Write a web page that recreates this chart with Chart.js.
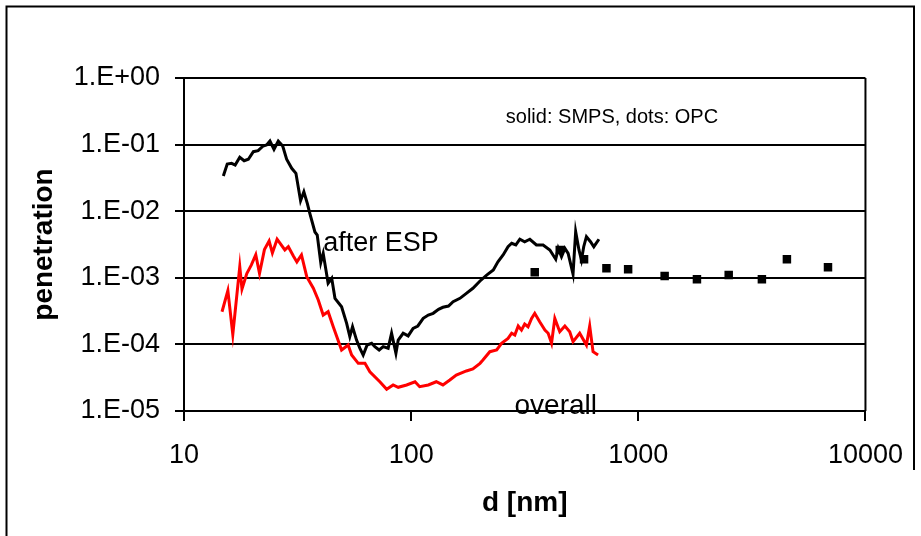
<!DOCTYPE html>
<html>
<head>
<meta charset="utf-8">
<script src="https://cdn.jsdelivr.net/npm/chart.js@4/dist/chart.umd.min.js"></script>
<style>
  body { margin: 0; background: #fff; }
  #wrap { width: 921px; height: 536px; }
</style>
</head>
<body>
<div id="wrap"><canvas id="myChart" width="921" height="536"></canvas></div>
<script>
// SMPS, after ESP (black line)
const espD = [14.9, 15.5, 16.2, 16.8, 17.6, 18.4, 19.2, 20.2, 21.2, 22.3,
  23.1, 23.9, 24.9, 26.0, 27.2, 28.3, 29.8, 31.1, 32.6, 33.7,
  34.9, 35.8, 37.7, 38.6, 40.0, 41.0, 43.1, 44.7, 46.2, 49.4,
  52.0, 53.7, 55.2, 57.5, 59.5, 61.5, 64.0, 67.0, 69.2, 72.3,
  75.3, 79.2, 82.0, 85.7, 87.7, 92.2, 97.0, 102, 107, 113,
  119, 125, 132, 138, 146, 153, 164, 175, 187, 201,
  215, 230, 241, 254, 267, 277, 289, 301, 316, 333,
  356, 381, 408, 433, 444, 459, 475, 491, 516, 530,
  548, 562, 575, 591, 616, 637, 671];
const espPen = [3.38e-2, 5.11e-2, 5.24e-2, 4.94e-2, 6.45e-2, 5.73e-2, 6.02e-2, 7.82e-2, 8.10e-2, 9.53e-2,
  9.86e-2, 0.113, 8.50e-2, 0.113, 9.53e-2, 6.02e-2, 4.41e-2, 3.71e-2, 1.44e-2, 1.96e-2,
  1.31e-2, 9.30e-3, 4.87e-3, 4.39e-3, 1.69e-3, 2.33e-3, 8.27e-4, 9.83e-4, 4.92e-4, 3.68e-4,
  2.07e-4, 1.31e-4, 1.84e-4, 1.16e-4, 8.74e-5, 6.93e-5, 9.79e-5, 1.04e-4, 9.24e-5, 8.24e-5,
  9.24e-5, 8.74e-5, 1.47e-4, 7.35e-5, 1.16e-4, 1.47e-4, 1.34e-4, 1.74e-4, 1.89e-4, 2.46e-4,
  2.76e-4, 2.93e-4, 3.37e-4, 3.61e-4, 3.77e-4, 4.38e-4, 4.92e-4, 5.85e-4, 6.96e-4, 8.95e-4,
  1.10e-3, 1.31e-3, 1.74e-3, 2.20e-3, 2.93e-3, 3.30e-3, 3.11e-3, 3.79e-3, 3.48e-3, 3.79e-3,
  3.11e-3, 3.11e-3, 2.62e-3, 1.90e-3, 2.77e-3, 2.07e-3, 2.77e-3, 2.33e-3, 1.14e-3, 4.92e-3,
  2.62e-3, 1.85e-3, 2.93e-3, 4.14e-3, 3.48e-3, 2.93e-3, 3.79e-3];

// SMPS, overall (red line)
const overallD = [14.7, 15.6, 16.4, 17.6, 18.0, 18.9, 19.8, 20.7, 21.5, 22.6,
  23.7, 24.5, 25.7, 26.5, 27.8, 28.8, 30.3, 31.4, 32.9, 34.7,
  37.1, 39.0, 41.0, 43.1, 45.4, 49.4, 52.8, 54.7, 58.5, 62.6,
  65.8, 72.8, 78.0, 83.3, 87.7, 95.5, 104, 109, 119, 129,
  138, 148, 158, 175, 187, 201, 207, 222, 238, 250,
  267, 277, 286, 296, 306, 316, 327, 339, 350, 368,
  388, 401, 415, 429, 451, 475, 499, 516, 552, 591,
  611, 632, 665];
const overallPen = [3.09e-4, 6.43e-4, 1.41e-4, 1.47e-3, 6.81e-4, 1.16e-3, 1.56e-3, 2.22e-3, 1.16e-3, 2.65e-3,
  3.57e-3, 2.36e-3, 3.79e-3, 3.30e-3, 2.62e-3, 2.93e-3, 2.12e-3, 1.73e-3, 2.20e-3, 1.04e-3,
  6.96e-4, 4.64e-4, 2.76e-4, 3.10e-4, 1.84e-4, 8.24e-5, 9.79e-5, 6.93e-5, 5.20e-5, 5.20e-5,
  3.89e-5, 2.75e-5, 2.12e-5, 2.46e-5, 2.27e-5, 2.46e-5, 2.75e-5, 2.32e-5, 2.46e-5, 2.75e-5,
  2.46e-5, 2.92e-5, 3.47e-5, 3.99e-5, 4.27e-5, 5.20e-5, 5.83e-5, 7.77e-5, 8.24e-5, 1.04e-4,
  1.23e-4, 1.47e-4, 1.38e-4, 1.89e-4, 1.64e-4, 2.02e-4, 1.84e-4, 2.46e-4, 2.93e-4, 2.19e-4,
  1.64e-4, 1.47e-4, 1.04e-4, 2.46e-4, 1.55e-4, 1.89e-4, 1.55e-4, 1.10e-4, 1.47e-4, 9.79e-5,
  1.89e-4, 7.77e-5, 6.93e-5];

// OPC (square dots)
const opcD = [350, 451, 577, 724, 902, 1306, 1812, 2500, 3500, 4510, 6840];
const opcPen = [1.21e-3, 2.61e-3, 1.90e-3, 1.39e-3, 1.34e-3, 1.06e-3, 9.5e-4, 1.10e-3, 9.5e-4, 1.90e-3, 1.44e-3];

const xTicks = [10, 100, 1000, 10000];
const yTicks = [1e-5, 1e-4, 1e-3, 1e-2, 1e-1, 1];
const yTickLabels = ['1.E-05', '1.E-04', '1.E-03', '1.E-02', '1.E-01', '1.E+00'];

const pts = (xs, ys) => xs.map((x, i) => ({x: x, y: ys[i]}));

// text labels inside the plot, placed in data units
const notes = [
  {text: 'solid: SMPS, dots: OPC', d: 261, p: 0.251, size: 20, align: 'left'},
  {text: 'after ESP', d: 41.0, p: 3.22e-3, size: 27, align: 'left'},
  {text: 'overall', d: 433, p: 1.19e-5, size: 28, align: 'center'}
];

Chart.defaults.font.family = "'Liberation Sans', Arial, sans-serif";
Chart.defaults.color = '#000';

const framePlugin = {
  id: 'frame',
  afterDraw(chart) {
    const {ctx, chartArea: a, scales} = chart;
    ctx.save();
    ctx.strokeStyle = '#000';
    ctx.lineWidth = 2;
    ctx.beginPath();
    ctx.moveTo(a.right, a.top);
    ctx.lineTo(a.right, a.bottom);
    ctx.stroke();
    ctx.beginPath();
    ctx.moveTo(6.5, 536);
    ctx.lineTo(6.5, 6.5);
    ctx.lineTo(914, 6.5);
    ctx.lineTo(914, 470);
    ctx.stroke();
    ctx.fillStyle = '#000';
    ctx.textBaseline = 'middle';
    notes.forEach(n => {
      ctx.font = n.size + "px 'Liberation Sans', Arial, sans-serif";
      ctx.textAlign = n.align;
      ctx.fillText(n.text, scales.x.getPixelForValue(n.d), scales.y.getPixelForValue(n.p));
    });
    ctx.restore();
  }
};

const config = {
  type: 'scatter',
  data: {
    datasets: [
      {
        label: 'after ESP',
        data: pts(espD, espPen),
        showLine: true,
        borderColor: '#000',
        borderWidth: 3,
        pointRadius: 0,
        tension: 0
      },
      {
        label: 'overall',
        data: pts(overallD, overallPen),
        showLine: true,
        borderColor: '#ff0000',
        borderWidth: 3,
        pointRadius: 0,
        tension: 0
      },
      {
        label: 'OPC',
        data: pts(opcD, opcPen),
        showLine: false,
        pointStyle: 'rect',
        pointRadius: 6,
        backgroundColor: '#000',
        borderColor: '#000',
        borderWidth: 0
      }
    ]
  },
  options: {
    responsive: false,
    animation: false,
    devicePixelRatio: 1,
    layout: { padding: { top: 78, right: 55, left: 0, bottom: 0 } },
    plugins: {
      legend: { display: false },
      tooltip: { enabled: false }
    },
    scales: {
      x: {
        type: 'logarithmic',
        min: 10,
        max: 10000,
        afterBuildTicks: s => { s.ticks = xTicks.map(v => ({value: v})); },
        afterFit: s => { s.height = 125; },
        ticks: {
          autoSkip: false,
          maxRotation: 0,
          padding: 18,
          font: { size: 27 },
          callback: v => String(v)
        },
        grid: { drawOnChartArea: false, color: '#000', lineWidth: 2, tickLength: 10 },
        border: { color: '#000', width: 2 },
        title: {
          display: true,
          text: 'd [nm]',
          font: { size: 28, weight: 'bold' },
          padding: { top: 0, bottom: 16 }
        }
      },
      y: {
        type: 'logarithmic',
        min: 1e-5,
        max: 1,
        afterBuildTicks: s => { s.ticks = yTicks.map(v => ({value: v})); },
        afterFit: s => { s.width = 184; },
        ticks: {
          autoSkip: false,
          padding: 15,
          font: { size: 27 },
          callback: v => {
            const i = yTicks.findIndex(t => Math.abs(Math.log10(t) - Math.log10(v)) < 1e-6);
            return i >= 0 ? yTickLabels[i] : '';
          }
        },
        grid: { color: '#000', lineWidth: 2, tickLength: 9 },
        border: { color: '#000', width: 2 },
        title: {
          display: true,
          text: 'penetration',
          font: { size: 28, weight: 'bold' },
          padding: { top: 27, bottom: 0 }
        }
      }
    }
  },
  plugins: [framePlugin]
};

const myChart = new Chart(document.getElementById('myChart'), config);
</script>
</body>
</html>
